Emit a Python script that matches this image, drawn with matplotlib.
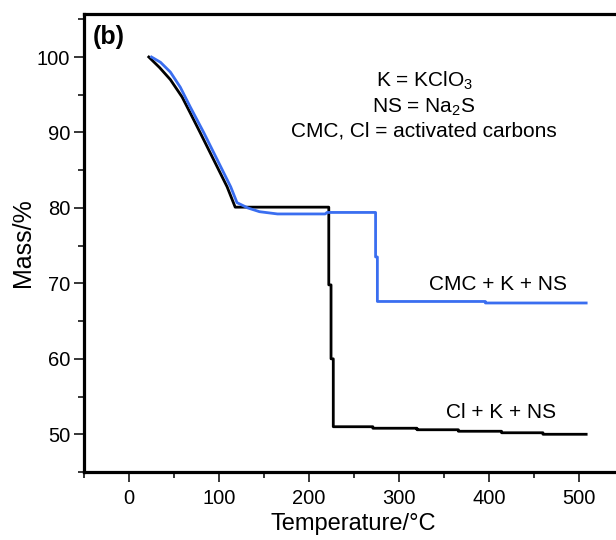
#!/usr/bin/env python3
"""
TGA curves: Cl + K + NS vs CMC + K + NS
"""

import matplotlib
matplotlib.use('Agg')
import matplotlib.pyplot as plt
from matplotlib.ticker import MultipleLocator

plt.rcParams['font.family'] = ['Liberation Sans', 'DejaVu Sans']
plt.rcParams['mathtext.fontset'] = 'custom'
plt.rcParams['mathtext.rm'] = 'Liberation Sans'

# Cl + K + NS (black)
temp_cl = [22, 34, 46, 59, 68, 79, 94, 109, 118, 150, 200, 222, 222, 224.5, 224.5,
           227, 227, 271, 271, 320, 320, 366, 366, 414, 414, 460, 460, 508]
mass_cl = [100, 98.6, 97.0, 94.7, 92.6, 90.0, 86.4, 82.8, 80.1, 80.1, 80.1, 80.1, 69.8, 69.8, 60.0,
           60.0, 51.0, 51.0, 50.8, 50.8, 50.6, 50.6, 50.4, 50.4, 50.2, 50.2, 50.0, 50.0]

# CMC + K + NS (blue)
temp_cmc = [25, 35, 46, 57, 68, 83, 98, 113, 120, 132, 145, 165, 200, 218, 220, 274, 274, 276, 276,
            396, 396, 508]
mass_cmc = [100, 99.3, 98.0, 96.0, 93.4, 90.0, 86.4, 82.8, 80.7, 80.0, 79.5, 79.2, 79.2, 79.2, 79.4, 79.4,
            73.5, 73.5, 67.6, 67.6, 67.4, 67.4]


def criar_grafico():
    fig = plt.figure(figsize=(6.16, 5.4), dpi=100)
    ax = fig.add_axes([84 / 616, 68 / 540, 1 - 84 / 616 + 0.01, (472 - 14) / 540])

    ax.plot(temp_cl, mass_cl, color='black', linewidth=2.0)
    ax.plot(temp_cmc, mass_cmc, color='#3a6ef0', linewidth=2.0)

    ax.set_xlim(-50, 548)
    ax.set_ylim(45, 105.7)
    ax.xaxis.set_minor_locator(MultipleLocator(50))
    ax.yaxis.set_minor_locator(MultipleLocator(5))
    ax.set_xticks([0, 100, 200, 300, 400, 500])
    ax.set_yticks([50, 60, 70, 80, 90, 100])
    ax.tick_params(which='both', direction='out', width=1.1, labelsize=14.5)
    ax.tick_params(which='major', length=7)
    ax.tick_params(which='minor', length=4)
    ax.tick_params(axis='x', pad=5)
    ax.tick_params(axis='y', pad=3)

    for side in ['left', 'bottom', 'top']:
        ax.spines[side].set_linewidth(2.3)
    ax.spines['right'].set_visible(False)

    ax.set_xlabel('Temperature/°C', fontsize=17, labelpad=4)
    ax.set_ylabel('Mass/%', fontsize=18, labelpad=1)

    ax.text(0.016, 0.975, '(b)', transform=ax.transAxes, fontsize=18,
            fontweight='bold', va='top', ha='left')

    ax.text(328, 96.07, 'K = KClO$_3$', fontsize=15, ha='center', va='baseline')
    ax.text(328, 92.6, 'NS = Na$_2$S', fontsize=15, ha='center', va='baseline')
    ax.text(328, 89.4, 'CMC, Cl = activated carbons', fontsize=15, ha='center', va='baseline')

    ax.text(409.6, 69.1, 'CMC + K + NS', fontsize=15, ha='center', va='baseline')
    ax.text(413, 52.2, 'Cl + K + NS', fontsize=15, ha='center', va='baseline')

    fig.savefig('out.png', dpi=100)
    plt.close(fig)


if __name__ == "__main__":
    criar_grafico()
